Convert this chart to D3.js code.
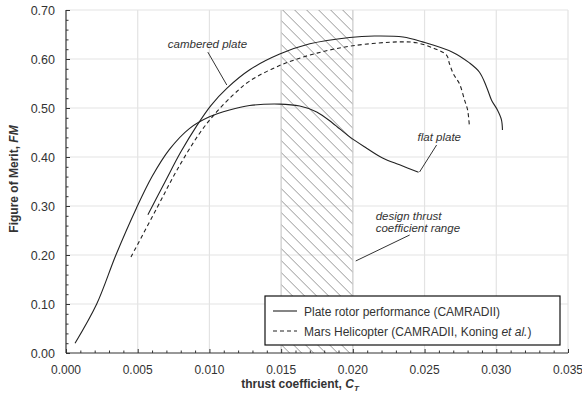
<!DOCTYPE html>
<html>
<head>
<meta charset="utf-8">
<script src="https://cdn.jsdelivr.net/npm/d3@7"></script>
<style>
  body { margin: 0; background: #fff; }
  text { font-family: "Liberation Sans", Arial, sans-serif; fill: #333; }
</style>
</head>
<body>
<script>
// flat plate rotor (solid)
const flatCT = [0.00063, 0.00214, 0.00348, 0.0049, 0.0060, 0.0072, 0.0086, 0.0100, 0.0114, 0.0128, 0.0149, 0.0163, 0.01748, 0.0186, 0.01978, 0.02096, 0.02207, 0.02326, 0.02458];
const flatFM = [0.020, 0.100, 0.200, 0.295, 0.360, 0.415, 0.458, 0.482, 0.496, 0.505, 0.508, 0.504, 0.492, 0.469, 0.441, 0.418, 0.398, 0.384, 0.369];

// cambered plate rotor (solid)
const camberCT = [0.00571, 0.0069, 0.0080, 0.0091, 0.0101, 0.01121, 0.01281, 0.0149, 0.017, 0.01978, 0.0215, 0.0235, 0.02486, 0.02695, 0.02813, 0.02883, 0.02932, 0.02967, 0.03008, 0.03036, 0.03043];
const camberFM = [0.282, 0.349, 0.410, 0.463, 0.505, 0.540, 0.578, 0.610, 0.631, 0.644, 0.647, 0.645, 0.635, 0.614, 0.592, 0.573, 0.543, 0.516, 0.496, 0.476, 0.455];

// Mars Helicopter (dashed)
const marsCT = [0.00453, 0.00634, 0.00773, 0.00933, 0.0105, 0.0117, 0.0128, 0.0150, 0.0175, 0.0200, 0.0233, 0.02444, 0.02563, 0.02653, 0.02674, 0.02702, 0.02744, 0.02779, 0.028, 0.02813];
const marsFM = [0.196, 0.296, 0.373, 0.449, 0.492, 0.528, 0.555, 0.588, 0.612, 0.627, 0.635, 0.633, 0.622, 0.608, 0.590, 0.569, 0.549, 0.516, 0.496, 0.461];

const designRange = [0.015, 0.020];
const xTicks = [0, 0.005, 0.010, 0.015, 0.020, 0.025, 0.030, 0.035];
const yTicks = [0, 0.1, 0.2, 0.3, 0.4, 0.5, 0.6, 0.7];
const legendLabels = ["Plate rotor performance (CAMRADII)", "Mars Helicopter (CAMRADII, Koning "];

var svgWidth = 582, svgHeight = 402;
const margin = { top: 10, right: 14, bottom: 49, left: 66 };

var svg = d3.select("body").append("svg")
  .attr("width", svgWidth)
  .attr("height", svgHeight);

var x = d3.scaleLinear().domain([0, 0.035]).range([margin.left, svgWidth - margin.right]);
var y = d3.scaleLinear().domain([0, 0.7]).range([svgHeight - margin.bottom, margin.top]);

//grid
svg.append("g").selectAll("line").data(xTicks.slice(1)).enter().append("line")
  .attr("x1", d => x(d)).attr("x2", d => x(d))
  .attr("y1", y(0)).attr("y2", y(0.7))
  .attr("stroke", "#e3e3e3").attr("stroke-width", 1.2);
svg.append("g").selectAll("line").data(yTicks.slice(1)).enter().append("line")
  .attr("y1", d => y(d)).attr("y2", d => y(d))
  .attr("x1", x(0)).attr("x2", x(0.035))
  .attr("stroke", "#e3e3e3").attr("stroke-width", 1.2);

//hatch
var defs = svg.append("defs");
var pat = defs.append("pattern")
  .attr("id", "hatch")
  .attr("patternUnits", "userSpaceOnUse")
  .attr("x", x(designRange[0]) + 1.5).attr("y", y(0.7))
  .attr("width", 12).attr("height", 12);
pat.append("path")
  .attr("d", "M0,0L12,12M-3,9L3,15M9,-3L15,3")
  .attr("stroke", "#8a8a8a").attr("stroke-width", 0.9).attr("fill", "none");

svg.append("rect")
  .attr("x", x(designRange[0])).attr("y", y(0.7))
  .attr("width", x(designRange[1]) - x(designRange[0]))
  .attr("height", y(0) - y(0.7))
  .attr("fill", "url(#hatch)");
svg.append("g").selectAll("line").data(designRange).enter().append("line")
  .attr("x1", d => x(d)).attr("x2", d => x(d))
  .attr("y1", y(0)).attr("y2", y(0.7))
  .attr("stroke", "#cfcfcf").attr("stroke-width", 1);

//axes
var xAxis = d3.axisBottom(x).tickValues(d3.range(0, 36).map(i => i * 0.001))
  .tickSize(0).tickFormat("");
var gx = svg.append("g").attr("transform", "translate(0," + y(0) + ")").call(xAxis);
gx.select(".domain").remove();
gx.selectAll(".tick line").attr("y2", (d, i) => i % 5 == 0 ? -4 : -2.5).attr("stroke", "#333");
svg.append("line").attr("x1", x(0)).attr("x2", x(0.035)).attr("y1", y(0)).attr("y2", y(0))
  .attr("stroke", "#333").attr("stroke-width", 1.2);

var yAxis = d3.axisLeft(y).tickValues(d3.range(0, 36).map(i => i * 0.02))
  .tickSize(0).tickFormat("");
var gy = svg.append("g").attr("transform", "translate(" + x(0) + ",0)").call(yAxis);
gy.select(".domain").remove();
gy.selectAll(".tick line").attr("x2", (d, i) => i % 5 == 0 ? 4 : 2.5).attr("stroke", "#333");
svg.append("line").attr("x1", x(0)).attr("x2", x(0)).attr("y1", y(0)).attr("y2", y(0.7))
  .attr("stroke", "#333").attr("stroke-width", 1.2);

svg.append("g").selectAll("text").data(xTicks).enter().append("text")
  .attr("x", d => x(d)).attr("y", y(0) + 21)
  .attr("text-anchor", "middle")
  .style("font-size", "12px")
  .text(d => d3.format(".3f")(d));
svg.append("g").selectAll("text").data(yTicks).enter().append("text")
  .attr("x", x(0) - 11).attr("y", d => y(d) + 4.5)
  .attr("text-anchor", "end")
  .style("font-size", "12.5px")
  .text(d => d3.format(".2f")(d));

//axis titles
var xt = svg.append("text")
  .attr("x", 300).attr("y", 388)
  .attr("text-anchor", "middle")
  .style("font-size", "12px").style("font-weight", "bold");
xt.append("tspan").text("thrust coefficient, ");
xt.append("tspan").style("font-style", "italic").text("C");
xt.append("tspan").style("font-style", "italic").style("font-size", "8px").attr("dy", 3).text("T");

var yt = svg.append("text")
  .attr("transform", "translate(18," + 179 + ") rotate(-90)")
  .attr("text-anchor", "middle")
  .style("font-size", "12px").style("font-weight", "bold");
yt.append("tspan").text("Figure of Merit, ");
yt.append("tspan").style("font-style", "italic").text("FM");

//curves
var line = d3.line().x(d => x(d[0])).y(d => y(d[1])).curve(d3.curveCatmullRom.alpha(0.5));
function pairs(a, b) { return a.map((v, i) => [v, b[i]]); }

svg.append("path").datum(pairs(flatCT, flatFM))
  .attr("d", line).attr("fill", "none").attr("stroke", "#222").attr("stroke-width", 1.1);
svg.append("path").datum(pairs(camberCT, camberFM))
  .attr("d", line).attr("fill", "none").attr("stroke", "#222").attr("stroke-width", 1.1);
svg.append("path").datum(pairs(marsCT, marsFM))
  .attr("d", line).attr("fill", "none").attr("stroke", "#222").attr("stroke-width", 1.1)
  .attr("stroke-dasharray", "4,3");

//annotations
function note(tx, ty, lines, lx1, ly1, lx2, ly2) {
  lines.forEach(function (t, i) {
    svg.append("text")
      .attr("x", x(tx)).attr("y", y(ty) + i * 12.5)
      .style("font-size", "11.5px").style("font-style", "italic")
      .text(t);
  });
  svg.append("line")
    .attr("x1", x(lx1)).attr("y1", y(ly1)).attr("x2", x(lx2)).attr("y2", y(ly2))
    .attr("stroke", "#333").attr("stroke-width", 1);
}
note(0.0071, 0.6224, ["cambered plate"], 0.00989, 0.614, 0.01121, 0.547);
note(0.02451, 0.4327, ["flat plate"], 0.02584, 0.4245, 0.02465, 0.3694);
note(0.02159, 0.2724, ["design thrust", "coefficient range"], 0.0202, 0.1878, 0.02396, 0.2408);

//legend
var lg = svg.append("g").attr("transform", "translate(265,296)");
lg.append("rect").attr("width", 295).attr("height", 49)
  .attr("fill", "#fff").attr("stroke", "#111").attr("stroke-width", 1.2);
lg.append("line").attr("x1", 8).attr("x2", 32).attr("y1", 15).attr("y2", 15)
  .attr("stroke", "#222").attr("stroke-width", 1.1);
lg.append("line").attr("x1", 8).attr("x2", 32).attr("y1", 35).attr("y2", 35)
  .attr("stroke", "#222").attr("stroke-width", 1.1).attr("stroke-dasharray", "4,3");
lg.append("text").attr("x", 39).attr("y", 19.5).style("font-size", "12px").text(legendLabels[0]);
var l2 = lg.append("text").attr("x", 39).attr("y", 39.5).style("font-size", "12px");
l2.append("tspan").text(legendLabels[1]);
l2.append("tspan").style("font-style", "italic").text("et al.");
l2.append("tspan").text(")");
</script>
</body>
</html>
